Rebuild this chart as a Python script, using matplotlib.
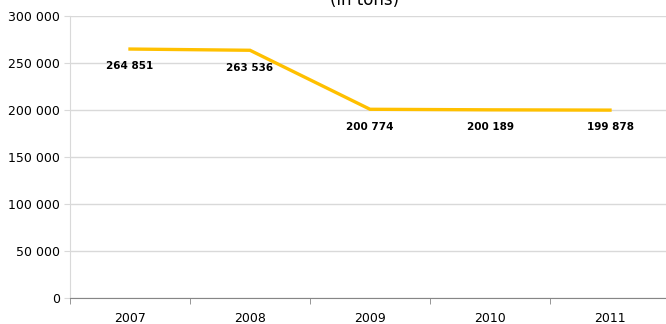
import matplotlib.pyplot as plt

years = ["2007", "2008", "2009", "2010", "2011"]
tons = [264851, 263536, 200774, 200189, 199878]
yticks = [0, 50000, 100000, 150000, 200000, 250000, 300000]

def fmt(v):
    return f"{v:,}".replace(",", " ")

fig = plt.figure(figsize=(6.66, 3.24), dpi=100)
ax = fig.add_axes([70 / 666, 26 / 324, 600 / 666, 282 / 324])

x = list(range(len(years)))
ax.plot(x, tons, color="#FFC000", lw=2.4, solid_joinstyle="miter")

for xi, v in zip(x, tons):
    ax.annotate(fmt(v), (xi, v), xytext=(0, -12.5), textcoords="offset points",
                ha="center", va="center", fontsize=7.5, fontweight="bold")

ax.set_xlim(-0.5, len(years) - 0.5)
ax.set_ylim(0, 300000)
ax.set_yticks(yticks)
ax.set_yticklabels([fmt(t) for t in yticks], fontsize=9)
ax.set_xticks(x)
ax.set_xticklabels(years, fontsize=9)
ax.set_xticks([i - 0.5 for i in range(len(years) + 1)], minor=True)

ax.grid(axis="y", color="#d9d9d9", lw=1)
ax.set_axisbelow(True)
ax.tick_params(axis="x", which="major", length=0, pad=10)
ax.tick_params(axis="x", which="minor", length=4, color="#868686")
ax.tick_params(axis="y", length=4, color="#d9d9d9", pad=3)

for s in ["top", "right"]:
    ax.spines[s].set_visible(False)
ax.spines["left"].set_color("#d9d9d9")
ax.spines["bottom"].set_color("#868686")

# title sits partly above the top edge
fig.text(365 / 666, 1 - 5 / 324, "(in tons)", ha="center", va="baseline", fontsize=12)

fig.savefig("out.png", dpi=100)
